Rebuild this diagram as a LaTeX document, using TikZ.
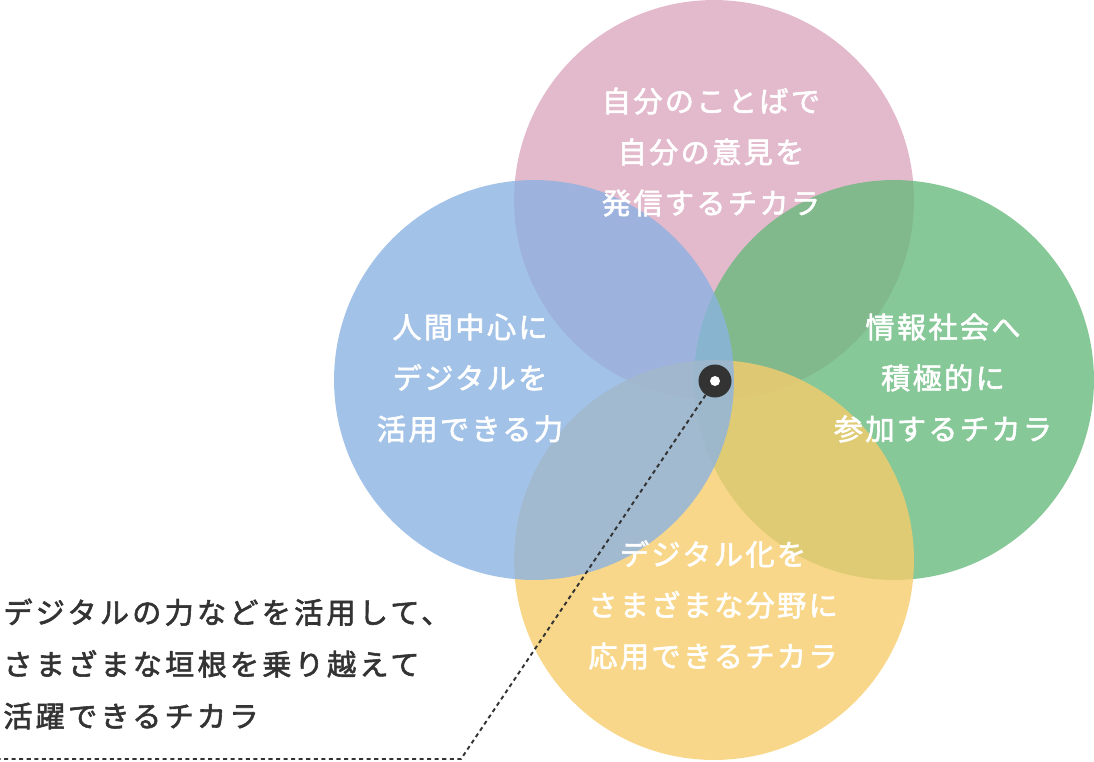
\documentclass[tikz,border=0pt]{standalone}
\usepackage{fontspec}
\newfontfamily\jpfont{Noto Sans CJK JP}[LetterSpace=8, FakeBold=2]
\newfontfamily\jpnotefont{Noto Sans CJK JP}[LetterSpace=11, FakeBold=2]
\definecolor{pinkc}{RGB}{220,167,191}
\definecolor{bluec}{RGB}{140,179,226}
\definecolor{greenc}{RGB}{105,186,126}
\definecolor{yellowc}{RGB}{247,205,109}
\definecolor{inkc}{RGB}{51,51,51}
\tikzset{
  bubble/.style={circle, minimum size=8cm, inner sep=0pt, fill opacity=0.8},
  intext/.style={text=white, align=center, inner sep=0pt,
    font=\jpfont\fontsize{16.6}{29}\selectfont},
  outtext/.style={text=inkc, align=left, inner sep=0pt, anchor=west,
    font=\jpnotefont\fontsize{16.6}{29.5}\selectfont},
  leader/.style={inkc, line width=1.1pt, dash pattern=on 2.3pt off 2pt}
}
\begin{document}
\begin{tikzpicture}[x=0.02cm, y=-0.02cm]
  \useasboundingbox (0,0) rectangle (1094,761);

  % circles
  \node[bubble, fill=pinkc] (hasshin) at (714,200) {};
  \node[bubble, fill=greenc] (sanka) at (894,380) {};
  \node[bubble, fill=yellowc] (ouyou) at (714,560) {};
  \node[bubble, fill=bluec] (ningen) at (534,380) {};

  % circle texts
  \node[intext] (hasshintxt) at (711,152) {自分のことばで\\自分の意見を\\発信するチカラ};
  \node[intext] (ningentxt) at (470,378) {人間中心に\\デジタルを\\活用できる力};
  \node[intext] (sankatxt) at (943,378) {情報社会へ\\積極的に\\参加するチカラ};
  \node[intext] (ouyoutxt) at (713,605) {デジタル化を\\さまざまな分野に\\応用できるチカラ};

  % centre mark and leader
  \node[circle, fill=inkc, minimum size=0.66cm, inner sep=0pt] (mark) at (715,381) {};
  \node[circle, fill=white, minimum size=0.2cm, inner sep=0pt] (markin) at (715,381) {};
  \coordinate (bend) at (461,759);
  \coordinate (tail) at (0,759);
  \draw[leader] (mark) -- (bend) -- (tail);

  % note
  \node[outtext] (note) at (3,664) {デジタルの力などを活用して、\\さまざまな垣根を乗り越えて\\活躍できるチカラ};
\end{tikzpicture}
\end{document}
